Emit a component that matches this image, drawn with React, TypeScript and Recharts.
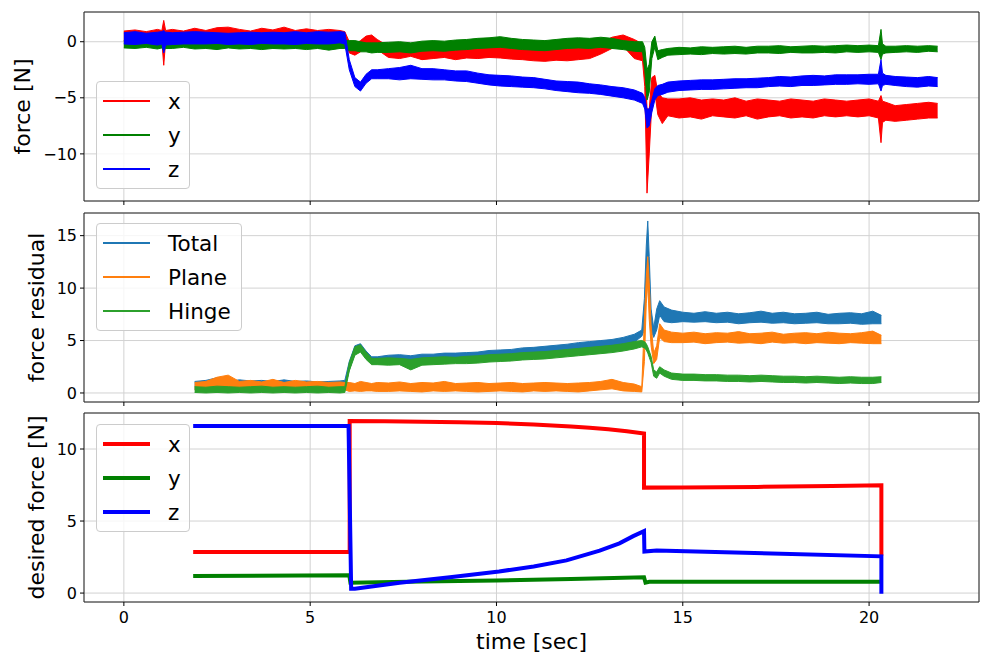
import React from 'react';
import { ComposedChart, Area, Line, XAxis, YAxis, CartesianGrid, ReferenceArea } from 'recharts';

const FONT = '"DejaVu Sans", sans-serif';

// ---------- shared time axis ----------
const timeDomain: [number, number] = [-1.07, 22.95];
const timeTicks = [0, 5, 10, 15, 20];

// ---------- panel 1: measured force (noise envelope low / high) ----------
const forceTime = [
  0, 0.3, 0.6, 0.9,
  1.02, 1.07, 1.12,
  1.3, 1.6, 1.9,
  2.2, 2.5, 2.8,
  3.1, 3.4, 3.7,
  4.0, 4.3, 4.6,
  4.9, 5.2, 5.5,
  5.8, 5.93,
  6.05, 6.2, 6.35, 6.5, 6.65, 6.8,
  7.1, 7.4, 7.7, 8.0,
  8.3, 8.6, 8.9, 9.2,
  9.5, 9.8, 10.1, 10.4,
  10.7, 11.0, 11.3, 11.6,
  11.9, 12.2, 12.5, 12.8,
  13.1, 13.4, 13.7,
  13.92, 13.98, 14.04, 14.1, 14.17, 14.25, 14.33, 14.45, 14.6,
  14.9, 15.2, 15.5, 15.8,
  16.1, 16.4, 16.7, 17.0,
  17.3, 17.6, 17.9, 18.2,
  18.5, 18.8, 19.1, 19.4,
  19.7, 20.0, 20.25,
  20.32, 20.36, 20.45,
  20.7, 21.0, 21.3, 21.6, 21.84,
];
const forceXHi = [
  0.95, 1.05, 0.9, 1.1,
  1.0, 1.9, 1.0,
  1.1, 0.95, 1.2,
  1.0, 1.25, 1.3,
  1.1, 0.95, 1.2,
  1.05, 1.3, 1.0,
  1.15, 1.0, 1.1,
  1.0, 0.9,
  0.0, -0.2, 0.1, 0.5, 0.6, 0.2,
  -0.4, -0.3, -0.35, -0.45,
  -0.4, -0.3, -0.45, -0.35,
  -0.4, -0.35, -0.3, -0.4,
  -0.45, -0.5, -0.55, -0.5,
  -0.55, -0.45, -0.35, -0.1,
  0.4, 0.6, 0.2,
  -0.2, -1.0, -6.0, -6.0, -3.2, -3.0, -4.5, -5.0, -5.1,
  -5.1, -5.0, -5.2, -5.1,
  -5.2, -5.0, -5.3, -5.1,
  -5.2, -5.3, -5.1, -5.2,
  -5.3, -5.1, -5.2, -5.3,
  -5.2, -5.1, -5.3,
  -4.8, -5.3, -5.4,
  -5.7, -5.6, -5.5, -5.4, -5.5,
];
const forceXLo = [
  0.05, 0.0, 0.1, 0.05,
  0.0, -2.1, 0.0,
  0.1, 0.05, 0.0,
  0.05, 0.1, 0.0,
  0.0, 0.05, 0.1,
  0.0, 0.1, -0.05,
  0.0, 0.05, 0.0,
  0.05, 0.0,
  -1.0, -1.2, -0.9, -0.4, -0.3, -0.7,
  -1.4, -1.5, -1.3, -1.6,
  -1.5, -1.4, -1.6, -1.45,
  -1.5, -1.4, -1.45, -1.55,
  -1.6, -1.7, -1.75, -1.65,
  -1.7, -1.6, -1.5, -1.1,
  -0.6, -0.4, -1.5,
  -1.7, -4.0, -13.5, -10.0, -5.5, -4.5, -6.5, -7.3, -6.6,
  -6.8, -6.7, -6.9, -6.6,
  -6.7, -6.8, -6.6, -6.9,
  -6.7, -6.6, -6.8, -6.7,
  -6.8, -6.6, -6.7, -6.6,
  -6.7, -6.6, -6.8,
  -9.0, -7.2, -7.0,
  -7.1, -7.0, -6.9, -6.8, -6.8,
];
const forceYHi = [
  0.1, 0.05, 0.1, 0.05,
  0.1, 0.3, 0.1,
  0.05, 0.1, 0.0,
  0.05, 0.0, 0.1,
  0.0, 0.05, 0.0,
  0.05, 0.0, 0.05,
  0.0, 0.05, 0.0,
  0.05, 0.1,
  0.1, 0.1, 0.0, -0.1, -0.1, -0.1,
  -0.05, 0.0, -0.1, 0.05,
  0.1, 0.05, 0.15, 0.2,
  0.3, 0.35, 0.45, 0.3,
  0.2, 0.15, 0.1, 0.2,
  0.3, 0.35, 0.3, 0.4,
  0.3, 0.1, 0.0,
  0.0, -0.5, -2.5, -2.0, 0.0, 0.5, -0.8, -0.7, -0.6,
  -0.5, -0.55, -0.45, -0.5,
  -0.45, -0.4, -0.5, -0.4,
  -0.4, -0.35, -0.45, -0.4,
  -0.35, -0.4, -0.35, -0.3,
  -0.35, -0.3, -0.35,
  1.1, -0.2, -0.4,
  -0.4, -0.35, -0.4, -0.35, -0.4,
];
const forceYLo = [
  -0.55, -0.6, -0.5, -0.65,
  -0.55, -0.8, -0.6,
  -0.6, -0.5, -0.65,
  -0.6, -0.7, -0.55,
  -0.65, -0.6, -0.7,
  -0.6, -0.65, -0.6,
  -0.7, -0.6, -0.75,
  -0.6, -0.6,
  -0.8, -0.8, -0.9, -0.9, -1.0, -0.95,
  -0.95, -0.9, -1.0, -0.85,
  -0.8, -0.85, -0.75, -0.7,
  -0.6, -0.55, -0.5, -0.6,
  -0.7, -0.75, -0.8, -0.7,
  -0.6, -0.55, -0.6, -0.5,
  -0.6, -0.7, -0.85,
  -0.9, -2.5, -5.2, -4.5, -1.5, -0.5, -1.6, -1.4, -1.2,
  -1.15, -1.1, -1.15, -1.05,
  -1.1, -1.05, -1.1, -1.0,
  -1.0, -1.05, -0.95, -1.0,
  -1.0, -0.95, -1.0, -0.9,
  -0.95, -0.9, -0.95,
  -1.6, -1.1, -1.0,
  -0.95, -0.9, -0.95, -0.85, -0.9,
];
const forceZHi = [
  0.8, 0.9, 0.75, 0.85,
  0.9, 1.0, 0.85,
  0.8, 0.85, 0.9,
  0.85, 0.8, 0.75,
  0.8, 0.85, 0.8,
  0.85, 0.8, 0.9,
  0.8, 0.9, 0.85,
  0.9, 0.85,
  -1.6, -3.2, -3.6, -2.9, -2.5, -2.5,
  -2.4, -2.3, -2.1, -2.4,
  -2.4, -2.5, -2.6, -2.6,
  -2.8, -2.95, -3.0, -3.05,
  -3.15, -3.2, -3.35, -3.5,
  -3.55, -3.6, -3.75, -3.85,
  -4.0, -4.1, -4.3,
  -4.6, -5.0, -6.0, -6.0, -5.2, -4.2, -3.9, -3.8, -3.6,
  -3.5, -3.45, -3.4, -3.4,
  -3.35, -3.3, -3.3, -3.25,
  -3.2, -3.1, -3.15, -3.05,
  -3.0, -3.05, -2.95, -2.95,
  -2.95, -2.9, -2.9,
  -1.6, -2.8, -3.0,
  -3.1, -3.15, -3.2, -3.1, -3.2,
];
const forceZLo = [
  -0.2, -0.25, -0.15, -0.3,
  -0.2, -1.0, -0.3,
  -0.25, -0.2, -0.2,
  -0.2, -0.15, -0.25,
  -0.2, -0.25, -0.15,
  -0.2, -0.2, -0.25,
  -0.15, -0.2, -0.2,
  -0.1, -0.2,
  -2.5, -4.0, -4.4, -3.7, -3.3, -3.3,
  -3.3, -3.4, -3.3, -3.35,
  -3.4, -3.4, -3.5, -3.55,
  -3.7, -3.85, -3.95, -4.0,
  -4.05, -4.1, -4.2, -4.35,
  -4.45, -4.55, -4.6, -4.7,
  -4.85, -5.0, -5.2,
  -5.5, -6.0, -7.7, -7.5, -6.3, -5.2, -4.8, -4.7, -4.5,
  -4.35, -4.3, -4.25, -4.25,
  -4.2, -4.15, -4.1, -4.1,
  -4.0, -3.95, -4.0, -3.9,
  -3.9, -3.85, -3.8, -3.8,
  -3.75, -3.8, -3.75,
  -4.4, -3.9, -3.8,
  -3.9, -4.0, -4.05, -3.95, -4.0,
];
const forceDomain: [number, number] = [-14.2, 2.65];
const forceTicks = [-10, -5, 0];

// ---------- panel 2: force residual (noise envelope low / high) ----------
const resTime = [
  1.9, 2.2, 2.5, 2.8, 3.1, 3.4, 3.7, 4.0, 4.3, 4.6, 4.9, 5.2, 5.5, 5.8,
  5.93,
  6.05, 6.2, 6.35, 6.5, 6.65, 6.8,
  7.1, 7.4, 7.7, 8.0, 8.3, 8.6, 8.9, 9.2, 9.5, 9.8, 10.1, 10.4,
  10.7, 11.0, 11.3, 11.6, 11.9, 12.2, 12.5, 12.8, 13.1, 13.4, 13.7,
  13.9, 13.97, 14.02, 14.06, 14.1, 14.15, 14.22, 14.3, 14.38, 14.5, 14.7,
  15.0, 15.3, 15.6, 15.9, 16.2, 16.5, 16.8, 17.1, 17.4,
  17.7, 18.0, 18.3, 18.6, 18.9, 19.2, 19.5, 19.8, 20.1,
  20.33,
];
const resTotalHi = [
  1.1, 1.2, 1.45, 1.1, 1.25, 1.15, 1.2, 1.1, 1.25, 1.1, 1.15, 1.05, 1.1, 1.15,
  1.2,
  3.0, 4.5, 4.7, 4.0, 3.45, 3.45,
  3.6, 3.65, 3.55, 3.7, 3.7, 3.8, 3.8, 3.85, 3.9, 4.05, 4.1, 4.15,
  4.3, 4.35, 4.45, 4.55, 4.65, 4.8, 4.9, 5.0, 5.1, 5.3, 5.6,
  6.0, 9.0, 14.0, 16.4, 13.0, 8.0, 6.2, 8.0, 8.8, 8.2, 7.9,
  7.7, 7.6, 7.75, 7.6, 7.7, 7.55, 7.65, 7.8, 7.6,
  7.7, 7.55, 7.6, 7.7, 7.5, 7.6, 7.65, 7.55, 7.8,
  7.4,
];
const resTotalLo = [
  0.35, 0.4, 0.45, 0.3, 0.4, 0.35, 0.4, 0.3, 0.35, 0.4, 0.3, 0.35, 0.3, 0.35,
  0.4,
  2.2, 3.7, 4.0, 3.3, 2.8, 2.8,
  2.9, 2.85, 2.85, 2.9, 3.0, 3.0, 3.1, 3.15, 3.2, 3.35, 3.4, 3.45,
  3.6, 3.65, 3.75, 3.85, 3.95, 4.1, 4.2, 4.3, 4.4, 4.6, 4.85,
  5.4, 6.0, 10.0, 13.5, 9.0, 6.0, 5.3, 6.0, 7.4, 6.8, 6.7,
  6.8, 6.75, 6.8, 6.7, 6.75, 6.6, 6.7, 6.75, 6.65,
  6.7, 6.6, 6.65, 6.7, 6.6, 6.6, 6.65, 6.55, 6.6,
  6.6,
];
const resPlaneHi = [
  1.0, 1.1, 1.5, 1.7, 1.1, 1.2, 1.05, 1.3, 1.0, 1.2, 1.05, 1.1, 1.0, 1.05,
  1.0,
  1.0, 0.9, 1.1, 1.0, 0.9, 1.0,
  0.95, 1.05, 0.9, 1.0, 0.95, 1.1, 0.9, 0.95, 1.0, 0.9, 0.95, 1.0,
  0.9, 0.95, 1.0, 0.95, 0.9, 0.95, 1.0, 1.1, 1.3, 1.0, 0.85,
  0.6, 7.0, 11.0, 13.0, 10.5, 6.5, 3.8, 4.5, 6.6, 6.0, 5.8,
  5.7, 5.8, 5.65, 5.75, 5.7, 5.85, 5.65, 5.7, 5.8,
  5.6, 5.7, 5.75, 5.65, 5.8, 5.7, 5.65, 5.75, 5.9,
  5.5,
];
const resPlaneLo = [
  0.3, 0.35, 0.4, 0.3, 0.35, 0.3, 0.4, 0.35, 0.3, 0.35, 0.3, 0.4, 0.3, 0.35,
  0.3,
  0.15, 0.2, 0.15, 0.2, 0.2, 0.15,
  0.15, 0.2, 0.15, 0.1, 0.2, 0.15, 0.2, 0.15, 0.1, 0.15, 0.2, 0.15,
  0.1, 0.2, 0.15, 0.2, 0.15, 0.1, 0.2, 0.3, 0.4, 0.2, 0.15,
  0.1, 3.0, 8.5, 10.5, 7.0, 4.5, 2.8, 3.2, 5.3, 4.9, 4.8,
  4.8, 4.85, 4.7, 4.8, 4.85, 4.75, 4.8, 4.7, 4.85,
  4.75, 4.8, 4.7, 4.8, 4.75, 4.7, 4.8, 4.75, 4.7,
  4.7,
];
const resHingeHi = [
  0.6, 0.55, 0.65, 0.6, 0.55, 0.6, 0.65, 0.55, 0.6, 0.55, 0.6, 0.65, 0.55, 0.6,
  0.6,
  2.9, 4.4, 4.6, 3.9, 3.3, 3.3,
  3.35, 3.3, 3.2, 3.35, 3.4, 3.45, 3.4, 3.5, 3.55, 3.65, 3.7, 3.75,
  3.85, 3.9, 3.95, 4.05, 4.15, 4.25, 4.35, 4.45, 4.55, 4.7, 4.9,
  5.0, 4.9, 4.7, 4.4, 4.0, 3.5, 2.2, 2.0, 2.5, 2.2, 1.9,
  1.8, 1.8, 1.75, 1.75, 1.7, 1.7, 1.65, 1.7, 1.65,
  1.6, 1.6, 1.55, 1.6, 1.55, 1.5, 1.55, 1.5, 1.5,
  1.55,
];
const resHingeLo = [
  0.05, 0.0, 0.05, 0.0, 0.05, 0.0, 0.05, 0.0, 0.05, 0.0, 0.05, 0.0, 0.05, 0.0,
  0.05,
  2.1, 3.6, 3.9, 3.2, 2.7, 2.7,
  2.65, 2.7, 2.2, 2.65, 2.7, 2.75, 2.8, 2.8, 2.85, 2.95, 3.0, 3.05,
  3.15, 3.2, 3.25, 3.35, 3.45, 3.55, 3.65, 3.75, 3.85, 4.0, 4.2,
  4.4, 4.3, 4.1, 3.8, 3.4, 2.9, 1.6, 1.4, 1.9, 1.6, 1.3,
  1.2, 1.2, 1.15, 1.15, 1.1, 1.1, 1.05, 1.1, 1.05,
  1.0, 1.0, 0.95, 1.0, 0.95, 0.9, 0.95, 0.9, 0.9,
  1.0,
];
const resDomain: [number, number] = [-0.86, 17.16];
const resTicks = [0, 5, 10, 15];

// ---------- panel 3: desired force ----------
const desiredXTime = [1.86, 6.06, 6.06, 7, 8, 9, 10, 11, 12, 12.5, 13, 13.5, 13.96, 13.96, 15, 17, 19, 20.33, 20.33];
const desiredXVal = [2.85, 2.85, 11.95, 11.93, 11.9, 11.86, 11.8, 11.7, 11.56, 11.47, 11.37, 11.24, 11.07, 7.32, 7.33, 7.37, 7.43, 7.48, 2.6];
const desiredYTime = [1.86, 6.05, 6.08, 8, 10, 12, 13.96, 14.0, 14.1, 20.3];
const desiredYVal = [1.18, 1.24, 0.72, 0.8, 0.88, 0.97, 1.1, 0.72, 0.78, 0.78];
const desiredZTime = [1.86, 6.03, 6.1, 6.2, 7.4, 8.75, 10.07, 11.0, 11.88, 12.77, 13.3, 13.67, 13.96, 13.97, 14.3, 20.33, 20.33];
const desiredZVal = [11.6, 11.6, 0.3, 0.3, 0.72, 1.1, 1.5, 1.85, 2.27, 2.95, 3.45, 3.95, 4.3, 2.88, 2.95, 2.55, -0.05];
const desiredDomain: [number, number] = [-0.62, 12.5];
const desiredTicks = [0, 5, 10];

// ---------- legends ----------
const xyzNames = ['x', 'y', 'z'];
const xyzColors = ['#ff0000', '#008000', '#0000ff'];
const residualNames = ['Total', 'Plane', 'Hinge'];
const residualColors = ['#1f77b4', '#ff7f0e', '#2ca02c'];

// ---------- tables built from the arrays ----------
const forceRows = forceTime.map((t, i) => ({
  t,
  x: [forceXLo[i], forceXHi[i]],
  y: [forceYLo[i], forceYHi[i]],
  z: [forceZLo[i], forceZHi[i]],
}));
const resRows = resTime.map((t, i) => ({
  t,
  total: [resTotalLo[i], resTotalHi[i]],
  plane: [resPlaneLo[i], resPlaneHi[i]],
  hinge: [resHingeLo[i], resHingeHi[i]],
}));
const desiredX = desiredXTime.map((t, i) => ({ t, v: desiredXVal[i] }));
const desiredY = desiredYTime.map((t, i) => ({ t, v: desiredYVal[i] }));
const desiredZ = desiredZTime.map((t, i) => ({ t, v: desiredZVal[i] }));

const fmt = (v: number) => String(v).replace('-', '\u2212');
const blank = () => '';

const W = 994;
const LEFT = 84;
const RIGHT_M = 15;
const GRID = '#d2d2d2';

function YLabel(props: any) {
  const { txt, lx, ly } = props;
  return (
    <text x={lx} y={ly} transform={`rotate(-90 ${lx} ${ly})`} textAnchor="middle" fontSize={22} fontFamily={FONT} fill="#000">
      {txt}
    </text>
  );
}

function XLabel(props: any) {
  const { txt, lx, ly } = props;
  return (
    <text x={lx} y={ly} textAnchor="middle" fontSize={22} fontFamily={FONT} fill="#000">
      {txt}
    </text>
  );
}

function LegendBox(props: { left: number; top: number; width: number; names: string[]; colors: string[]; lw: number }) {
  const { left, top, width, names, colors, lw } = props;
  return (
    <div
      style={{
        position: 'absolute',
        left,
        top,
        width,
        height: 108,
        boxSizing: 'border-box',
        border: '1px solid #cccccc',
        borderRadius: 4,
        background: 'rgba(255,255,255,0.8)',
        fontFamily: FONT,
      }}
    >
      {names.map((n, i) => (
        <div key={n} style={{ position: 'absolute', left: 0, top: 2 + 34 * i, height: 34, width: '100%' }}>
          <div style={{ position: 'absolute', left: 6, top: 17 - lw / 2, width: 47, height: lw, background: colors[i] }} />
          <div style={{ position: 'absolute', left: 71, top: 0, height: 34, lineHeight: '34px', fontSize: 21.5, color: '#000', whiteSpace: 'nowrap', paddingTop: 1 }}>
            {n}
          </div>
        </div>
      ))}
    </div>
  );
}

function Panel(props: {
  top: number;
  height: number;
  marginTop: number;
  xAxisHeight: number;
  yDomain: [number, number];
  yTicks: number[];
  yLabel: string;
  yLabelX: number;
  data?: any[];
  showTimeLabels: boolean;
  children: any;
}) {
  const { top, height, marginTop, xAxisHeight, yDomain, yTicks, yLabel, yLabelX, data, showTimeLabels, children } = props;
  const plotH = height - marginTop - xAxisHeight;
  const cy = marginTop + plotH / 2;
  return (
    <div style={{ position: 'absolute', left: 0, top, width: W, height }}>
      <ComposedChart
        width={W}
        height={height}
        data={data}
        margin={{ top: marginTop, right: RIGHT_M, bottom: 0, left: 0 }}
        style={{ fontFamily: FONT }}
      >
        <CartesianGrid stroke={GRID} strokeWidth={1} />
        <XAxis
          dataKey="t"
          type="number"
          domain={timeDomain}
          ticks={timeTicks}
          allowDataOverflow
          height={xAxisHeight}
          axisLine={false}
          tickLine={{ stroke: '#000' }}
          tickSize={4}
          tickMargin={6}
          interval={0}
          tick={{ fontSize: 16, fill: '#000', fontFamily: FONT }}
          tickFormatter={showTimeLabels ? fmt : blank}
          label={showTimeLabels ? <XLabel txt="time [sec]" lx={LEFT + (W - LEFT - RIGHT_M) / 2} ly={marginTop + plotH + 46.5} /> : undefined}
        />
        <YAxis
          type="number"
          domain={yDomain}
          ticks={yTicks}
          allowDataOverflow
          width={LEFT}
          axisLine={false}
          tickLine={{ stroke: '#000' }}
          tickSize={4}
          tickMargin={3}
          interval={0}
          tick={{ fontSize: 16, fill: '#000', fontFamily: FONT }}
          tickFormatter={fmt}
          label={<YLabel txt={yLabel} lx={yLabelX} ly={cy} />}
        />
        {children}
        <ReferenceArea
          x1={timeDomain[0]}
          x2={timeDomain[1]}
          y1={yDomain[0]}
          y2={yDomain[1]}
          fill="none"
          fillOpacity={0}
          stroke="#222"
          strokeWidth={1}
          ifOverflow="visible"
        />
      </ComposedChart>
    </div>
  );
}

const bandProps = {
  type: 'linear' as const,
  fillOpacity: 1,
  strokeWidth: 1,
  isAnimationActive: false,
  dot: false,
  activeDot: false,
};

export default function App() {
  return (
    <div style={{ position: 'absolute', left: 0, top: 0, width: 994, height: 660, background: '#fff', fontFamily: FONT }}>
      <Panel
        top={0}
        height={212}
        marginTop={12}
        xAxisHeight={11}
        yDomain={forceDomain}
        yTicks={forceTicks}
        yLabel="force [N]"
        yLabelX={30}
        data={forceRows}
        showTimeLabels={false}
      >
        <Area {...bandProps} dataKey="x" stroke={xyzColors[0]} fill={xyzColors[0]} />
        <Area {...bandProps} dataKey="y" stroke={xyzColors[1]} fill={xyzColors[1]} />
        <Area {...bandProps} dataKey="z" stroke={xyzColors[2]} fill={xyzColors[2]} />
      </Panel>
      <Panel
        top={202}
        height={211}
        marginTop={11}
        xAxisHeight={11}
        yDomain={resDomain}
        yTicks={resTicks}
        yLabel="force residual"
        yLabelX={44}
        data={resRows}
        showTimeLabels={false}
      >
        <Area {...bandProps} dataKey="total" stroke={residualColors[0]} fill={residualColors[0]} />
        <Area {...bandProps} dataKey="plane" stroke={residualColors[1]} fill={residualColors[1]} />
        <Area {...bandProps} dataKey="hinge" stroke={residualColors[2]} fill={residualColors[2]} />
      </Panel>
      <Panel
        top={402}
        height={258}
        marginTop={11}
        xAxisHeight={58}
        yDomain={desiredDomain}
        yTicks={desiredTicks}
        yLabel="desired force [N]"
        yLabelX={44}
        showTimeLabels={true}
      >
        <Line data={desiredX} dataKey="v" type="linear" stroke={xyzColors[0]} strokeWidth={4} dot={false} activeDot={false} isAnimationActive={false} />
        <Line data={desiredY} dataKey="v" type="linear" stroke={xyzColors[1]} strokeWidth={4} dot={false} activeDot={false} isAnimationActive={false} />
        <Line data={desiredZ} dataKey="v" type="linear" stroke={xyzColors[2]} strokeWidth={4} dot={false} activeDot={false} isAnimationActive={false} />
      </Panel>
      <LegendBox left={96} top={81} width={94} names={xyzNames} colors={xyzColors} lw={2} />
      <LegendBox left={96} top={223} width={146} names={residualNames} colors={residualColors} lw={2} />
      <LegendBox left={96} top={424} width={94} names={xyzNames} colors={xyzColors} lw={4} />
    </div>
  );
}
